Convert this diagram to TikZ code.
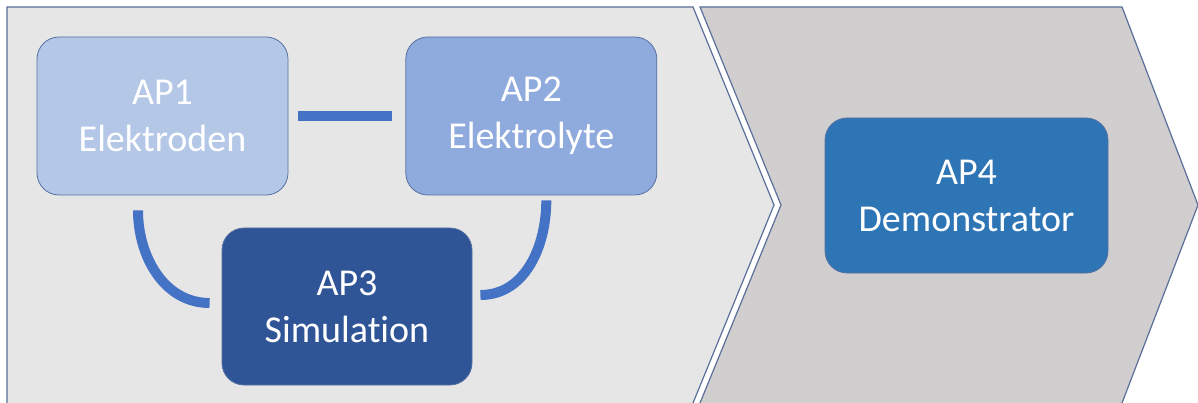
\documentclass[tikz,border=0pt]{standalone}
\usepackage{fontspec}
\setmainfont[Ligatures={NoCommon}]{Carlito}
\usepackage{tikz}
\usetikzlibrary{positioning,calc}
\definecolor{chevleft}{HTML}{E7E6E6}
\definecolor{chevright}{HTML}{D0CECE}
\definecolor{chevedge}{HTML}{5A6F9A}
\definecolor{apone}{HTML}{B4C7E7}
\definecolor{aptwo}{HTML}{8FAADC}
\definecolor{apthree}{HTML}{2F5597}
\definecolor{apfour}{HTML}{2E75B6}
\definecolor{boxedge}{HTML}{5670A3}
\definecolor{linkblue}{HTML}{4472C4}

\begin{document}
\begin{tikzpicture}[x=1pt,y=-1pt,
  apbox/.style={draw=boxedge,line width=0.8pt,rounded corners=22pt,inner sep=0pt,
    minimum width=251pt,minimum height=158pt,align=center,text=white,
    font=\fontsize{38}{47}\selectfont},
  link/.style={draw=linkblue,line width=10pt}]
\useasboundingbox (0,0) rectangle (1198,403);
\fill[white] (0,0) rectangle (1198,403);
% the two phase arrows
\draw[fill=chevright,draw=chevedge,line width=1.2pt] (700,7) -- (1122,7) -- (1198,205) -- (1122,403) -- (1119,410) -- (697,410) -- (700,403) -- (781,205) -- cycle;
\draw[fill=chevleft,draw=chevedge,line width=1.2pt] (7,410) -- (7,7) -- (693,7) -- (774,205) -- (693,403) -- (690,410) -- cycle;
% work packages
\node[apbox,fill=apone] (ap1) at (162.5,116) {AP1\\Elektroden};
\node[apbox,fill=aptwo,right=117pt of ap1] (ap2) {AP2\\Elektrolyte};
\node[apbox,fill=apthree,minimum width=250pt,minimum height=157pt] (ap3) at (347,306.5) {AP3\\Simulation};
\node[apbox,fill=apfour,minimum width=283pt,minimum height=155pt] (ap4) at (966.5,195.5) {AP4\\Demonstrator};
\coordinate (l1) at ([xshift=-24.5pt,yshift=-15pt]ap1.south);
\coordinate (l3) at ([xshift=-12pt,yshift=3.5pt]ap3.west);
\coordinate (r2) at ([xshift=15pt,yshift=-5pt]ap2.south);
\coordinate (r3) at ([xshift=8pt,yshift=11.5pt]ap3.east);
\draw[link,shorten <=10pt,shorten >=13pt] (ap1.east) -- (ap2.west);
\foreach \a/\b/\i in {l1/l3/180,r2/r3/0}{\draw[link] (\a) to[out=-90,in=\i] (\b);}
\end{tikzpicture}
\end{document}
